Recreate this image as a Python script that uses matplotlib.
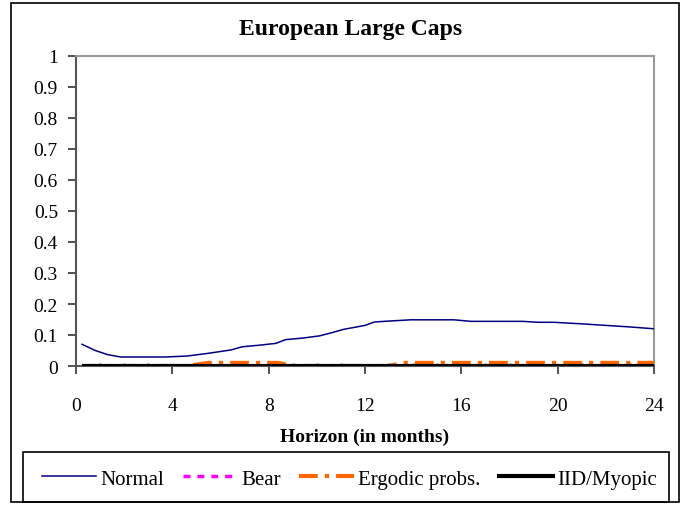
import matplotlib
matplotlib.use("Agg")
import matplotlib.pyplot as plt
from matplotlib.patches import Rectangle
from matplotlib.lines import Line2D

plt.rcParams['font.family'] = ['Liberation Serif', 'DejaVu Serif']

title = "European Large Caps"
xlabel = "Horizon (in months)"

# Normal regime weights
normal_x = [0.25, 0.8, 1.3, 1.85, 2.8, 3.7, 4.6, 5.5, 6.45, 6.9, 7.6, 8.3, 8.7,
            9.4, 10.1, 10.6, 11.1, 12.0, 12.4, 13.0, 13.9, 14.8, 15.7, 16.4,
            17.5, 18.55, 19.2, 19.85, 21.0, 22.0, 23.0, 24.0]
normal_y = [0.070, 0.050, 0.037, 0.029, 0.029, 0.029, 0.032, 0.041, 0.052, 0.062,
            0.067, 0.073, 0.085, 0.090, 0.097, 0.107, 0.118, 0.131, 0.142, 0.145,
            0.149, 0.149, 0.149, 0.144, 0.144, 0.144, 0.141, 0.141, 0.136, 0.131,
            0.126, 0.120]

# Bear regime weights
bear_x = [0.25, 24.0]
bear_y = [0.0, 0.0]

# Ergodic probabilities weights
ergodic_x = [0.25, 4.6, 5.5, 8.4, 9.0, 13.0, 13.6, 24.0]
ergodic_y = [0.0, 0.0, 0.010, 0.010, 0.0, 0.0, 0.010, 0.010]

# IID / Myopic weights
iid_x = [0.25, 24.0]
iid_y = [0.0, 0.0]

x_ticks = [0, 4, 8, 12, 16, 20, 24]
y_ticks = [0, 0.1, 0.2, 0.3, 0.4, 0.5, 0.6, 0.7, 0.8, 0.9, 1.0]

W, H = 684, 506
fig = plt.figure(figsize=(W / 100, H / 100), dpi=100)
ax = fig.add_axes([76 / W, 1 - 367 / H, (654 - 76) / W, (367 - 57) / H])

ax.plot(normal_x, normal_y, color='#000080', lw=1.1, label='Normal', zorder=3)
ax.plot(bear_x, bear_y, color='#FF00FF', lw=2.5, linestyle=(0, (2, 2)), label='Bear', zorder=3)
ax.plot(ergodic_x, ergodic_y, color='#FF6600', lw=3, linestyle=(0, (4.5, 1.7, 1, 1.7)),
        label='Ergodic probs.', zorder=4)
ax.plot(iid_x, iid_y, color='black', lw=3, label='IID/Myopic', zorder=5, solid_capstyle='butt')

ax.set_xlim(0, 24)
ax.set_ylim(0, 1)
ax.set_xticks(x_ticks)
ax.set_xticklabels([str(t) for t in x_ticks])
ax.set_yticks(y_ticks)
ax.set_yticklabels(['%g' % t for t in y_ticks])
ax.set_xticks(range(0, 25), minor=True)

for s in ['top', 'right']:
    ax.spines[s].set_color('#999999')
    ax.spines[s].set_linewidth(1.5)
for s in ['left', 'bottom']:
    ax.spines[s].set_color('#555555')
    ax.spines[s].set_linewidth(1.5)

ax.tick_params(axis='y', direction='out', length=6, width=1.2, color='#333333',
               pad=7, labelsize=14)
ax.tick_params(axis='x', which='major', direction='out', length=6, width=1.2,
               color='#333333', pad=16, labelsize=14)
ax.tick_params(axis='x', which='minor', direction='in', length=2, width=1, color='#333333')

fig.text(351 / W, 1 - 30 / H, title, ha='center', va='center', fontsize=17, fontweight='bold')
fig.text(365 / W, 1 - 437 / H, xlabel, ha='center', va='center', fontsize=14, fontweight='bold')

# outer border
fig.patches.append(Rectangle((11 / W, 1 - 503 / H), (679 - 11) / W, (503 - 4) / H,
                             transform=fig.transFigure, fill=False, lw=1.2, ec='black'))
# legend frame
fig.patches.append(Rectangle((23 / W, 1 - 503 / H), (669 - 23) / W, (503 - 453) / H,
                             transform=fig.transFigure, fill=False, lw=1.2, ec='black'))

handles = [
    Line2D([], [], color='#000080', lw=1.1),
    Line2D([], [], color='#FF00FF', lw=2.5, linestyle=(0, (2, 2))),
    Line2D([], [], color='#FF6600', lw=3, linestyle=(0, (4.5, 1.7, 1, 1.7))),
    Line2D([], [], color='black', lw=3),
]
labels = ['Normal', 'Bear', 'Ergodic probs.', 'IID/Myopic']
fig.legend(handles, labels, loc='center', bbox_to_anchor=(349.5 / W, 1 - 480 / H),
           ncol=4, frameon=False, fontsize=15, handlelength=2.6, handletextpad=0.2,
           columnspacing=0.9, borderpad=0)

fig.savefig('out.png', dpi=100)
